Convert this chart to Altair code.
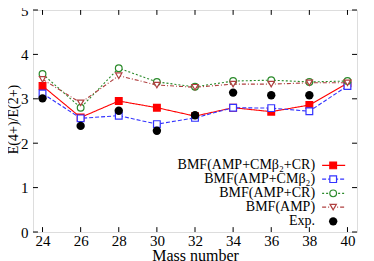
import altair as alt
import pandas as pd

# ---- data ----
mass = [24, 26, 28, 30, 32, 34, 36, 38, 40]
amp_cm_cr = [3.29, 2.58, 2.95, 2.80, 2.61, 2.80, 2.71, 2.86, 3.35]
amp_cm = [3.12, 2.56, 2.62, 2.43, 2.57, 2.80, 2.79, 2.72, 3.29]
amp_cr = [3.56, 2.80, 3.69, 3.38, 3.27, 3.40, 3.42, 3.38, 3.40]
amp = [3.44, 2.91, 3.52, 3.31, 3.26, 3.33, 3.33, 3.36, 3.36]
exp_mass = [24, 26, 28, 30, 32, 34, 36, 38]
exp_vals = [3.01, 2.39, 2.73, 2.28, 2.63, 3.14, 3.08, 3.08]

labels = ["BMF(AMP+CMβ₂+CR)", "BMF(AMP+CMβ₂)", "BMF(AMP+CR)", "BMF(AMP)", "Exp."]
x_ticks = [24, 26, 28, 30, 32, 34, 36, 38, 40]
y_ticks = [0, 1, 2, 3, 4, 5]

# ---- styles ----
FONT = "Liberation Serif"
styles = [
    dict(color="#ff0000", dash=[1, 0], shape="square", fill="#ff0000", size=45),
    dict(color="#3333ff", dash=[4, 2], shape="square", fill="white", size=45),
    dict(color="#2a8a2a", dash=[2, 2], shape="circle", fill="white", size=45),
    dict(color="#b04040", dash=[4, 2, 1, 2], shape="triangle-down", fill="white", size=40),
]
series = [amp_cm_cr, amp_cm, amp_cr, amp]

XD = [23.5, 40.5]
YD = [0, 5]
xs = alt.Scale(domain=XD, nice=False, zero=False)
ys = alt.Scale(domain=YD, nice=False, zero=False)

xax = alt.Axis(values=x_ticks, ticks=False, domain=False, grid=False,
               labelFont=FONT, labelFontSize=15, labelColor="black",
               labelPadding=1, title="Mass number", titleFont=FONT,
               titleFontSize=16, titleFontWeight="normal", titleColor="black",
               titleY=28, titleBaseline="alphabetic", labelFlush=False)
yax = alt.Axis(values=y_ticks, ticks=False, domain=False, grid=False,
               labelFont=FONT, labelFontSize=15, labelColor="black",
               labelPadding=5, title="E(4+)/E(2+)", titleFont=FONT,
               titleFontSize=14, titleFontWeight="normal", titleColor="black",
               titleX=-20, titleY=109, titleBaseline="middle", labelFlush=False)

layers = []
first = True
for vals, st, lab in zip(series, styles, labels):
    df = pd.DataFrame({"m": mass, "v": vals})
    base = alt.Chart(df)
    if first:
        enc_x = alt.X("m:Q", scale=xs, axis=xax)
        enc_y = alt.Y("v:Q", scale=ys, axis=yax)
        first = False
    else:
        enc_x = alt.X("m:Q", scale=xs)
        enc_y = alt.Y("v:Q", scale=ys)
    layers.append(base.mark_line(color=st["color"], strokeDash=st["dash"], strokeWidth=1.1)
                  .encode(x=enc_x, y=enc_y))
    layers.append(base.mark_point(shape=st["shape"], color=st["color"], fill=st["fill"],
                                  filled=False, fillOpacity=1, opacity=1, strokeWidth=1.2,
                                  size=st["size"])
                  .encode(x=alt.X("m:Q", scale=xs), y=alt.Y("v:Q", scale=ys)))

exp_df = pd.DataFrame({"m": exp_mass, "v": exp_vals})
layers.append(alt.Chart(exp_df).mark_circle(color="black", size=70, opacity=1)
              .encode(x=alt.X("m:Q", scale=xs), y=alt.Y("v:Q", scale=ys)))

# ---- inward ticks (gnuplot style, mirrored) ----
tx = 0.26   # tick length in x units (~5px)
ty = 0.11   # tick length in y units (~5px)
xt = pd.DataFrame({"m": x_ticks})
yt = pd.DataFrame({"v": y_ticks})
for y0, y1 in [(YD[0], YD[0] + ty), (YD[1], YD[1] - ty)]:
    layers.append(alt.Chart(xt).mark_rule(color="black", strokeWidth=1)
                  .encode(x=alt.X("m:Q", scale=xs),
                          y=alt.YDatum(y0), y2=alt.Y2Datum(y1)))
for x0, x1 in [(XD[0], XD[0] + tx), (XD[1], XD[1] - tx)]:
    layers.append(alt.Chart(yt).mark_rule(color="black", strokeWidth=1)
                  .encode(y=alt.Y("v:Q", scale=ys),
                          x=alt.XDatum(x0), x2=alt.X2Datum(x1)))

# ---- legend (drawn in data coordinates) ----
leg_y = [1.50, 1.19, 0.87, 0.56, 0.24]
leg_text_x = 38.30
leg_line = (38.67, 39.88)
leg_mark_x = 39.25
leg_df = pd.DataFrame({"label": labels, "y": leg_y})
layers.append(alt.Chart(leg_df).mark_text(align="right", baseline="middle", font=FONT,
                                          fontSize=14, color="black")
              .encode(x=alt.XDatum(leg_text_x), y=alt.Y("y:Q", scale=ys), text="label:N"))
for i, st in enumerate(styles):
    row = pd.DataFrame({"y": [leg_y[i]]})
    layers.append(alt.Chart(row).mark_rule(color=st["color"], strokeDash=st["dash"], strokeWidth=1.1)
                  .encode(y=alt.Y("y:Q", scale=ys), x=alt.XDatum(leg_line[0]),
                          x2=alt.X2Datum(leg_line[1])))
    layers.append(alt.Chart(row).mark_point(shape=st["shape"], color=st["color"], fill=st["fill"],
                                            filled=False, fillOpacity=1, opacity=1,
                                            strokeWidth=1.2, size=st["size"])
                  .encode(y=alt.Y("y:Q", scale=ys), x=alt.XDatum(leg_mark_x)))
layers.append(alt.Chart(pd.DataFrame({"y": [leg_y[4]]})).mark_circle(color="black", size=70, opacity=1)
              .encode(y=alt.Y("y:Q", scale=ys), x=alt.XDatum(leg_mark_x)))

chart = alt.layer(*layers).properties(
    width=324, height=222,
    autosize=alt.AutoSizeParams(type="none"),
    padding={"left": 25, "top": 2, "right": 9, "bottom": 29},
).configure_view(stroke="black", strokeWidth=1).configure(background="white")

chart.save("out.html", embed_options={"renderer": "svg", "actions": False})
